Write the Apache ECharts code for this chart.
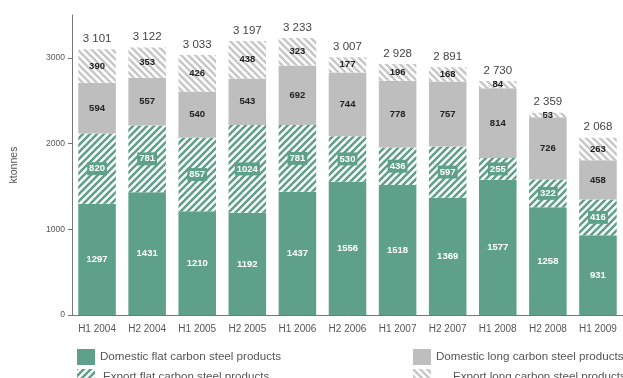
<!DOCTYPE html>
<html>
<head>
<meta charset="utf-8">
<script src="https://cdn.jsdelivr.net/npm/echarts@6/dist/echarts.min.js"></script>
<style>
  html, body { margin: 0; padding: 0; background: #fff; }
  #main { width: 623px; height: 378px; }
</style>
</head>
<body>
<div id="main"></div>
<script>
var categories = ['H1 2004', 'H2 2004', 'H1 2005', 'H2 2005', 'H1 2006', 'H2 2006', 'H1 2007', 'H2 2007', 'H1 2008', 'H2 2008', 'H1 2009'];
var domesticFlat = [1297, 1431, 1210, 1192, 1437, 1556, 1518, 1369, 1577, 1258, 931];
var exportFlat = [820, 781, 857, 1024, 781, 530, 436, 597, 255, 322, 416];
var domesticLong = [594, 557, 540, 543, 692, 744, 778, 757, 814, 726, 458];
var exportLong = [390, 353, 426, 438, 323, 177, 196, 168, 84, 53, 263];
var totals = [3101, 3122, 3033, 3197, 3233, 3007, 2928, 2891, 2730, 2359, 2068];
var yTicks = [0, 1000, 2000, 3000];

var green = '#5fa08a';
var grey = '#bebebe';
var font = "'Liberation Sans', Arial, sans-serif";

// diagonal hatch pattern
function hatch(col, back) {
    var s = 7;
    var c = document.createElement('canvas');
    c.width = s; c.height = s;
    var ctx = c.getContext('2d');
    ctx.fillStyle = '#fff';
    ctx.fillRect(0, 0, s, s);
    ctx.strokeStyle = col;
    ctx.lineWidth = 2.6;
    ctx.beginPath();
    if (!back) {
        ctx.moveTo(-s, s); ctx.lineTo(s, -s);
        ctx.moveTo(0, 2 * s); ctx.lineTo(2 * s, 0);
        ctx.moveTo(0, s); ctx.lineTo(s, 0);
    } else {
        ctx.moveTo(0, 0); ctx.lineTo(s, s);
        ctx.moveTo(-s, 0); ctx.lineTo(s, 2 * s);
        ctx.moveTo(0, -s); ctx.lineTo(2 * s, s);
    }
    ctx.stroke();
    return { image: c, repeat: 'repeat' };
}

function fmtThousand(v) {
    var s = String(v);
    return s.length > 3 ? s.slice(0, s.length - 3) + ' ' + s.slice(-3) : s;
}

var inLabel = { show: true, position: 'inside', fontFamily: font, fontSize: 9.5, fontWeight: 'bold' };

var chart = echarts.init(document.getElementById('main'));
chart.setOption({
    animation: false,
    grid: { left: 72, top: 15, width: 561, bottom: 63 },
    legend: [{
        left: 72, top: 344, height: 50, orient: 'vertical', icon: 'rect',
        itemWidth: 18, itemHeight: 16, itemGap: 4,
        textStyle: { fontFamily: font, fontSize: 11.6, color: '#555' },
        data: ['Domestic flat carbon steel products', { name: 'Export flat carbon steel products', textStyle: { padding: [0, 0, 0, 3] } }]
    }, {
        left: 408, top: 344, height: 50, orient: 'vertical', icon: 'rect',
        itemWidth: 18, itemHeight: 16, itemGap: 4,
        textStyle: { fontFamily: font, fontSize: 11.6, color: '#555' },
        data: ['Domestic long carbon steel products', { name: 'Export long carbon steel products', textStyle: { padding: [0, 0, 0, 17] } }]
    }],
    xAxis: {
        type: 'category',
        data: categories,
        axisLine: { lineStyle: { color: '#777' } },
        axisTick: { length: 5, lineStyle: { color: '#777' } },
        axisLabel: { interval: 0, fontFamily: font, fontSize: 10, color: '#555', margin: 9 }
    },
    yAxis: {
        type: 'value',
        min: 0, max: 3500, interval: 1000,
        name: 'ktonnes',
        nameLocation: 'middle',
        nameGap: 52,
        nameTextStyle: { fontFamily: font, fontSize: 10.5, color: '#555' },
        splitLine: { show: false },
        axisLine: { show: true, lineStyle: { color: '#777' } },
        axisTick: { show: true, length: 4, lineStyle: { color: '#777' }, customValues: yTicks },
        axisLabel: { fontFamily: font, fontSize: 8.5, color: '#555', margin: 7, customValues: yTicks,
                     formatter: function (v) { return String(v); } }
    },
    series: [{
        name: 'Domestic flat carbon steel products',
        type: 'bar', stack: 'all', barCategoryGap: '25%',
        data: domesticFlat,
        itemStyle: { color: green },
        label: Object.assign({}, inLabel, { color: '#fff' })
    }, {
        name: 'Export flat carbon steel products',
        type: 'bar', stack: 'all',
        data: exportFlat,
        itemStyle: { color: hatch(green, false) },
        label: Object.assign({}, inLabel, { color: '#fff', backgroundColor: green, padding: [2, 2, 1, 2] })
    }, {
        name: 'Domestic long carbon steel products',
        type: 'bar', stack: 'all',
        data: domesticLong,
        itemStyle: { color: grey },
        label: Object.assign({}, inLabel, { color: '#222' })
    }, {
        name: 'Export long carbon steel products',
        type: 'bar', stack: 'all',
        data: exportLong,
        itemStyle: { color: hatch('#c8c8c8', true) },
        label: Object.assign({}, inLabel, { color: '#222' })
    }, {
        name: 'total',
        type: 'line',
        data: totals,
        symbol: 'circle',
        symbolSize: 1,
        itemStyle: { color: 'rgba(0,0,0,0)' },
        lineStyle: { width: 0, opacity: 0 },
        silent: true,
        label: { show: true, position: 'top', distance: 4, color: '#444', fontFamily: font, fontSize: 11.5,
                 formatter: function (p) { return fmtThousand(p.value); } }
    }]
});
</script>
</body>
</html>
